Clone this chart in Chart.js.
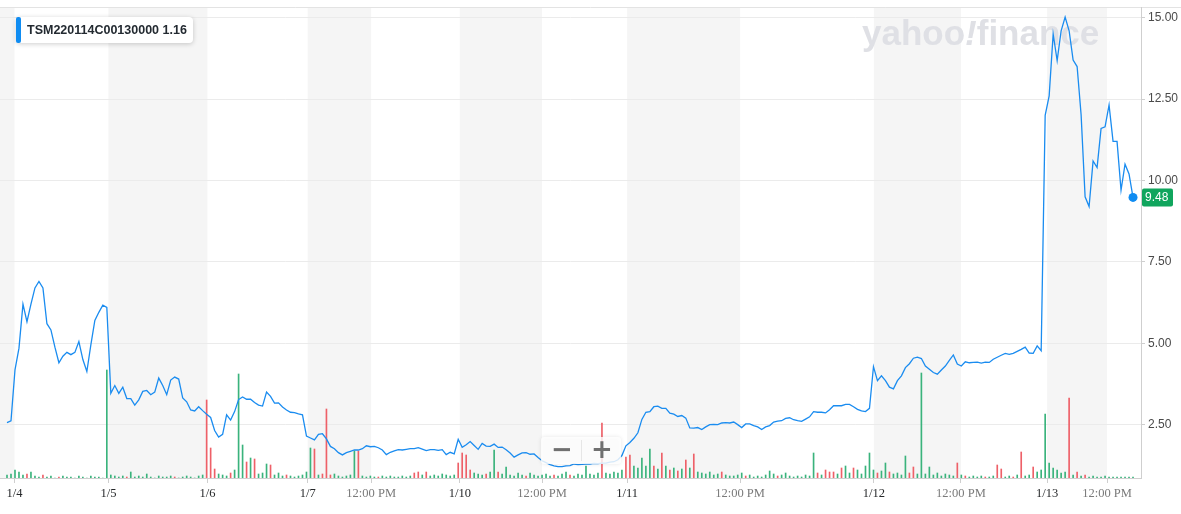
<!DOCTYPE html>
<html>
<head>
<meta charset="utf-8">
<script src="https://cdn.jsdelivr.net/npm/chart.js@4.4.1/dist/chart.umd.min.js"></script>
<style>
  html, body { margin: 0; padding: 0; background: #fff; }
  #wrap { width: 1181px; height: 514px; }
</style>
</head>
<body>
<div id="wrap"><canvas id="optionChart" width="1181" height="514"></canvas></div>
<script>
const contractName = 'TSM220114C00130000';
const prevClose = 1.16;

// x positions are sample indices (one sample per few trading minutes)
const tickPos = [1.88, 25.4, 50.2, 75.3, 91.2, 113.4, 134.0, 155.3, 183.6, 217.1, 238.9, 260.5, 275.5];
const tickLabels = ['1/4', '1/5', '1/6', '1/7', '12:00 PM', '1/10', '12:00 PM', '1/11', '12:00 PM', '1/12', '12:00 PM', '1/13', '12:00 PM'];
const priceTicks = [2.5, 5, 7.5, 10, 12.5, 15];

const price = [
    2.56, 2.62, 4.18, 4.85, 6.2, 5.66, 6.2, 6.7, 6.9, 6.7, 5.6, 5.41, 4.88, 4.4, 4.6, 4.72, 4.65, 4.72, 5.05, 4.5, 4.13, 4.95, 5.7, 5.95, 6.17,
    6.1, 3.46, 3.7, 3.46, 3.65, 3.3, 3.3, 3.1, 3.26, 3.52, 3.55, 3.42, 3.5, 3.93, 3.7, 3.42, 3.87, 3.96, 3.9, 3.32, 3.2, 2.95, 2.92, 3.05, 2.93,
    2.82, 2.72, 2.32, 2.12, 2.2, 2.8, 2.64, 2.9, 3.27, 3.35, 3.28, 3.28, 3.18, 3.1, 3.07, 3.5, 3.37, 3.16, 3.17, 3.04, 2.95, 2.88, 2.87, 2.83, 2.8,
    2.15, 2.09, 2.03, 2.2, 2.22, 2.06, 1.83, 1.76, 1.64, 1.57, 1.64, 1.68, 1.72, 1.72, 1.76, 1.85, 1.82, 1.83, 1.79, 1.72, 1.58, 1.65, 1.69, 1.73, 1.72,
    1.74, 1.76, 1.76, 1.79, 1.75, 1.7, 1.73, 1.73, 1.71, 1.73, 1.58, 1.65, 1.6, 2.05, 1.8, 1.88, 1.98, 1.86, 1.74, 1.92, 1.84, 1.83, 1.9, 1.8, 1.81,
    1.73, 1.63, 1.5, 1.57, 1.63, 1.64, 1.59, 1.6, 1.49, 1.39, 1.33, 1.27, 1.23, 1.21, 1.21, 1.23, 1.24, 1.29, 1.27, 1.28, 1.29, 1.29, 1.31, 1.3, 1.32,
    1.32, 1.35, 1.36, 1.42, 1.55, 1.85, 1.95, 2.08, 2.25, 2.66, 2.88, 2.9, 3.05, 3.07, 3.0, 3.0, 2.85, 2.82, 2.75, 2.78, 2.7, 2.4, 2.39, 2.41, 2.35,
    2.43, 2.5, 2.51, 2.5, 2.55, 2.56, 2.55, 2.58, 2.5, 2.41, 2.52, 2.52, 2.47, 2.43, 2.35, 2.43, 2.47, 2.58, 2.61, 2.62, 2.69, 2.71, 2.65, 2.62, 2.6,
    2.67, 2.74, 2.9, 2.88, 2.88, 2.86, 2.96, 3.08, 3.08, 3.08, 3.12, 3.12, 3.05, 2.97, 2.92, 2.9, 3.0, 4.28, 3.85, 4.0, 3.85, 3.65, 3.6, 3.85, 4.0,
    4.25, 4.37, 4.54, 4.57, 4.53, 4.3, 4.2, 4.1, 4.05, 4.18, 4.3, 4.47, 4.64, 4.36, 4.3, 4.43, 4.4, 4.41, 4.42, 4.39, 4.42, 4.41, 4.51, 4.57, 4.63,
    4.69, 4.66, 4.69, 4.75, 4.81, 4.88, 4.7, 4.69, 4.92, 4.77, 12.0, 12.6, 14.5, 13.68, 14.6, 15.02, 14.6, 13.7, 13.5, 12.02, 9.5, 9.2, 10.6, 10.4, 11.6,
    11.65, 12.32, 11.2, 11.2, 9.7, 10.5, 10.2, 9.48
];

const volume = [
    3, 4, 8, 6, 3, 4, 6, 2, 1, 3, 1, 2, 0, 1, 2, 1, 1, 0, 2, 1, 0, 2, 1, 1, 0,
    108, 3, 2, 1, 2, 1, 6, 1, 2, 1, 4, 1, 0, 2, 1, 1, 2, 1, 0, 1, 2, 1, 0, 2, 3,
    78, 30, 9, 4, 3, 2, 5, 8, 104, 33, 16, 20, 19, 4, 5, 14, 13, 3, 5, 2, 3, 2, 1, 2, 3,
    6, 30, 29, 3, 4, 69, 3, 4, 2, 1, 2, 3, 27, 27, 2, 1, 2, 1, 1, 2, 1, 2, 1, 1, 2,
    1, 2, 5, 6, 3, 6, 2, 3, 2, 4, 3, 2, 3, 15, 25, 23, 8, 5, 4, 3, 4, 6, 28, 6, 4,
    11, 3, 2, 5, 3, 2, 5, 3, 2, 3, 4, 2, 3, 2, 4, 6, 3, 2, 4, 3, 12, 4, 3, 5, 55,
    5, 4, 6, 5, 8, 21, 23, 12, 10, 20, 12, 29, 12, 9, 25, 12, 8, 10, 7, 9, 18, 10, 24, 6, 5,
    4, 6, 3, 4, 6, 3, 2, 2, 3, 5, 2, 3, 1, 2, 1, 3, 7, 4, 2, 3, 5, 2, 1, 2, 1,
    3, 2, 25, 5, 3, 8, 6, 6, 4, 10, 12, 5, 10, 8, 4, 12, 25, 8, 5, 7, 15, 6, 4, 5, 3,
    22, 5, 11, 4, 105, 4, 11, 3, 5, 2, 4, 3, 2, 15, 3, 2, 1, 2, 1, 2, 1, 1, 2, 13, 9,
    1, 2, 1, 3, 26, 2, 3, 11, 6, 8, 64, 15, 10, 8, 5, 6, 80, 3, 6, 2, 3, 1, 2, 1, 1,
    2, 1, 1, 1, 1, 1, 1, 1
];

// samples where the traded volume was on a down tick
const downBars = [5, 9, 13, 30, 42, 50, 51, 52, 56, 60, 62, 66, 70, 77, 79, 80, 81, 88, 93, 102, 103, 105, 113, 114, 115, 116,
    120, 123, 130, 137, 141, 149, 155, 156, 162, 164, 166, 168, 170, 172, 179, 185, 193, 203, 205, 206, 207, 209, 212, 218,
    221, 226, 227, 238, 240, 245, 248, 249, 252, 254, 257, 266, 268, 270];

const labels = price.map((p, i) => i);
const lastIdx = price.length - 1;

function rrect(ctx, x, y, w, h, r) {
    ctx.beginPath();
    ctx.moveTo(x + r, y);
    ctx.lineTo(x + w - r, y);
    ctx.quadraticCurveTo(x + w, y, x + w, y + r);
    ctx.lineTo(x + w, y + h - r);
    ctx.quadraticCurveTo(x + w, y + h, x + w - r, y + h);
    ctx.lineTo(x + r, y + h);
    ctx.quadraticCurveTo(x, y + h, x, y + h - r);
    ctx.lineTo(x, y + r);
    ctx.quadraticCurveTo(x, y, x + r, y);
    ctx.closePath();
}

const decor = {
    id: 'decor',
    beforeDraw(chart) {
        const {ctx, chartArea: a, scales: {x}} = chart;
        ctx.save();
        ctx.fillStyle = '#fff';
        ctx.fillRect(0, 0, chart.width, chart.height);
        let edges = [a.left].concat(tickPos.map(v => x.getPixelForValue(v)), [a.right]);
        ctx.fillStyle = '#f5f5f5';
        for (let k = 0; k < edges.length - 1; k += 2) {
            ctx.fillRect(edges[k], a.top, edges[k + 1] - edges[k], a.bottom - a.top);
        }
        ctx.strokeStyle = '#e3e3e3';
        ctx.lineWidth = 1;
        ctx.beginPath();
        ctx.moveTo(0, a.top + 0.5);
        ctx.lineTo(chart.width, a.top + 0.5);
        ctx.stroke();
        ctx.restore();
    },
    beforeDatasetsDraw(chart) {
        const ctx = chart.ctx;
        ctx.save();
        ctx.fillStyle = '#dfe0e5';
        ctx.textBaseline = 'alphabetic';
        let wx = 862, wy = 45;
        ctx.font = 'bold 35px "Liberation Sans", Arial, sans-serif';
        ctx.fillText('yahoo', wx, wy);
        wx += ctx.measureText('yahoo').width;
        ctx.font = 'italic bold 35px "Liberation Sans", Arial, sans-serif';
        ctx.fillText('!', wx, wy);
        wx += ctx.measureText('!').width;
        ctx.font = 'bold 35px "Liberation Sans", Arial, sans-serif';
        ctx.fillText('finance', wx, wy);
        ctx.restore();
    },
    afterDraw(chart) {
        const {ctx, chartArea: a} = chart;
        ctx.save();

        // zoom control
        ctx.shadowColor = 'rgba(0,0,0,0.12)';
        ctx.shadowBlur = 4;
        ctx.fillStyle = 'rgba(255,255,255,0.82)';
        rrect(ctx, 541, 437, 80, 27, 3);
        ctx.fill();
        ctx.shadowColor = 'transparent';
        ctx.strokeStyle = '#e6e6e6';
        ctx.beginPath();
        ctx.moveTo(581.5, 440);
        ctx.lineTo(581.5, 461);
        ctx.stroke();
        ctx.fillStyle = '#707070';
        ctx.font = 'bold 26px "DejaVu Sans", sans-serif';
        ctx.textAlign = 'center';
        ctx.textBaseline = 'middle';
        ctx.fillText('\u2212', 562, 451);
        ctx.fillText('+', 602, 451);

        // series legend
        ctx.shadowColor = 'rgba(0,0,0,0.2)';
        ctx.shadowBlur = 5;
        ctx.shadowOffsetY = 1;
        ctx.fillStyle = '#fff';
        rrect(ctx, 16, 17, 177, 26, 4);
        ctx.fill();
        ctx.shadowColor = 'transparent';
        ctx.fillStyle = '#0f8cf2';
        rrect(ctx, 16, 17, 5, 26, 2);
        ctx.fill();
        ctx.fillStyle = '#232a31';
        ctx.font = 'bold 12.5px "Liberation Sans", Arial, sans-serif';
        ctx.textAlign = 'left';
        ctx.textBaseline = 'middle';
        ctx.fillText(contractName + ' ' + prevClose.toFixed(2), 27, 30.5);

        // last price tag
        const pt = chart.getDatasetMeta(0).data[lastIdx];
        ctx.fillStyle = '#10a55d';
        rrect(ctx, a.right + 1, pt.y - 9, 31, 18, 2);
        ctx.fill();
        ctx.fillStyle = '#fff';
        ctx.font = '12px "Liberation Sans", Arial, sans-serif';
        ctx.fillText(price[lastIdx].toFixed(2), a.right + 4, pt.y + 0.5);
        ctx.restore();
    }
};

let ctx = document.getElementById('optionChart').getContext('2d');
let optionChart = new Chart(ctx, {
    type: 'line',
    data: {
        labels: labels,
        datasets: [{
            label: contractName,
            data: price,
            borderColor: '#1a8cf0',
            borderWidth: 1.3,
            tension: 0,
            pointRadius: c => c.dataIndex === lastIdx ? 4.5 : 0,
            pointBackgroundColor: '#0f8cf2',
            pointBorderWidth: 0,
            clip: false,
            yAxisID: 'y',
            order: 0
        }, {
            type: 'bar',
            label: 'Volume',
            data: volume,
            backgroundColor: volume.map((v, i) => downBars.includes(i) ? '#ee6068' : '#3ab37c'),
            borderWidth: 0,
            barThickness: 1,
            yAxisID: 'yv',
            order: 1
        }]
    },
    options: {
        responsive: false,
        devicePixelRatio: 1,
        animation: false,
        events: [],
        layout: { autoPadding: false, padding: { top: 7, left: 0, right: 0, bottom: 0 } },
        plugins: {
            legend: { display: false },
            tooltip: { enabled: false }
        },
        scales: {
            x: {
                type: 'linear',
                min: -1.753,
                max: 284.0,
                offset: false,
                afterBuildTicks: s => { s.ticks = tickPos.map(v => ({ value: v })); },
                afterFit: s => { s.height = 36; s.paddingLeft = 0; s.paddingRight = 0; },
                grid: { offset: false, drawOnChartArea: false, tickLength: 5, tickColor: '#cfcfcf' },
                border: { color: '#cfcfcf' },
                ticks: {
                    autoSkip: false,
                    maxRotation: 0,
                    padding: 3,
                    font: { family: '"Liberation Serif", "Times New Roman", serif', size: 12.5 },
                    color: c => tickLabels[c.index] === '12:00 PM' ? '#7a7a7a' : '#26282a',
                    callback: (v, i) => tickLabels[i]
                }
            },
            y: {
                position: 'right',
                min: 0.86,
                max: 15.33,
                afterBuildTicks: s => { s.ticks = priceTicks.map(v => ({ value: v })); },
                afterFit: s => { s.width = 40; s.paddingTop = 0; s.paddingBottom = 0; },
                grid: { color: '#ebebeb', tickColor: '#cfcfcf', tickLength: 4 },
                border: { color: '#cfcfcf' },
                ticks: {
                    padding: 3,
                    color: '#4a4a4a',
                    font: { family: '"Liberation Sans", Arial, sans-serif', size: 12 },
                    callback: v => v.toFixed(2)
                }
            },
            yv: {
                display: false,
                min: 0,
                max: 471
            }
        }
    },
    plugins: [decor]
});
</script>
</body>
</html>
